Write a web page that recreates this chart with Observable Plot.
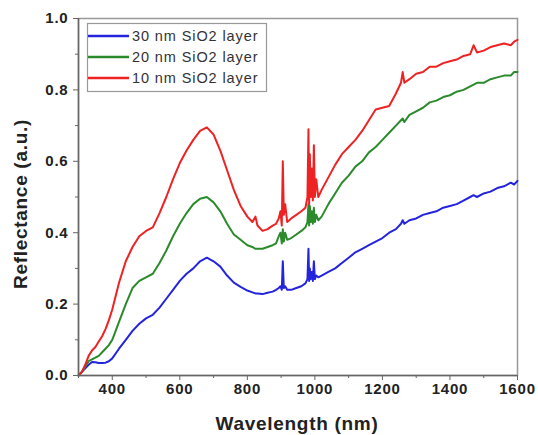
<!DOCTYPE html>
<html>
<head>
<meta charset="utf-8">
<script src="https://cdn.jsdelivr.net/npm/d3@7"></script>
<script src="https://cdn.jsdelivr.net/npm/@observablehq/plot@0.6"></script>
<style>
  html, body { margin: 0; padding: 0; background: #fff; }
  #chart { width: 538px; height: 435px; }
  #chart svg { font-family: "Liberation Sans", Arial, sans-serif; }
  g[aria-label="x-axis tick label"], g[aria-label="y-axis tick label"] { letter-spacing: 0.8px; }
  g.titles text { letter-spacing: 0.7px; }
</style>
</head>
<body>
<div id="chart"></div>
<script>
const wavelength = [300,310,320,330,340,350,360,370,380,390,400,420,440,460,480,500,520,540,560,580,600,620,640,660,680,700,720,740,760,780,800,815,824,830,845,860,875,885,893,898,902,905,908,912,918,930,945,960,972,978,981,983,985,988,991,994,997,1000,1004,1010,1020,1040,1060,1080,1100,1120,1140,1160,1180,1200,1220,1240,1255,1260,1265,1280,1300,1320,1340,1360,1380,1400,1420,1440,1460,1470,1480,1500,1520,1540,1560,1580,1590,1600];

const red10 = [0.0,0.01,0.03,0.055,0.07,0.08,0.095,0.11,0.13,0.155,0.185,0.26,0.32,0.36,0.39,0.405,0.415,0.455,0.50,0.55,0.595,0.63,0.66,0.685,0.695,0.675,0.63,0.575,0.52,0.475,0.445,0.43,0.445,0.42,0.405,0.41,0.42,0.425,0.44,0.46,0.42,0.60,0.45,0.48,0.43,0.44,0.45,0.46,0.47,0.50,0.69,0.48,0.62,0.50,0.58,0.49,0.645,0.50,0.55,0.50,0.52,0.555,0.59,0.62,0.64,0.66,0.685,0.715,0.745,0.75,0.755,0.79,0.82,0.85,0.82,0.83,0.845,0.85,0.865,0.865,0.875,0.88,0.885,0.895,0.90,0.925,0.905,0.91,0.92,0.925,0.93,0.925,0.935,0.94];

const green20 = [0.0,0.01,0.025,0.04,0.045,0.05,0.055,0.065,0.075,0.085,0.10,0.15,0.20,0.245,0.265,0.275,0.285,0.315,0.35,0.39,0.425,0.455,0.48,0.495,0.50,0.485,0.46,0.425,0.395,0.38,0.365,0.36,0.355,0.355,0.355,0.36,0.365,0.37,0.39,0.40,0.37,0.41,0.375,0.40,0.38,0.385,0.395,0.405,0.415,0.43,0.48,0.42,0.475,0.43,0.46,0.425,0.47,0.43,0.45,0.435,0.445,0.48,0.51,0.54,0.56,0.585,0.60,0.625,0.64,0.66,0.68,0.70,0.715,0.72,0.71,0.73,0.74,0.75,0.765,0.77,0.78,0.785,0.795,0.80,0.81,0.815,0.82,0.82,0.83,0.835,0.84,0.84,0.85,0.85];

const blue30 = [0.0,0.01,0.02,0.03,0.038,0.037,0.035,0.035,0.036,0.04,0.048,0.075,0.10,0.125,0.145,0.16,0.17,0.19,0.215,0.24,0.265,0.285,0.30,0.32,0.33,0.32,0.305,0.28,0.26,0.248,0.238,0.233,0.23,0.23,0.228,0.232,0.235,0.24,0.245,0.25,0.24,0.32,0.245,0.25,0.24,0.24,0.245,0.25,0.258,0.27,0.355,0.265,0.30,0.27,0.29,0.265,0.32,0.27,0.28,0.275,0.28,0.29,0.30,0.315,0.33,0.345,0.355,0.365,0.375,0.385,0.40,0.41,0.425,0.435,0.425,0.435,0.44,0.45,0.455,0.46,0.47,0.475,0.48,0.49,0.50,0.505,0.50,0.51,0.515,0.525,0.53,0.54,0.535,0.545];

const seriesNames = ["30 nm SiO2 layer", "20 nm SiO2 layer", "10 nm SiO2 layer"];
const seriesColors = ["#2424dc", "#2b8a2b", "#ee2222"];
const seriesValues = [blue30, green20, red10];

const xMajor = [400, 600, 800, 1000, 1200, 1400, 1600];
const xMinor = [300, 500, 700, 900, 1100, 1300, 1500];
const yMajor = [0, 0.2, 0.4, 0.6, 0.8, 1.0];
const yMinor = [0.1, 0.3, 0.5, 0.7, 0.9];

const xTitle = "Wavelength (nm)";
const yTitle = "Reflectance (a.u.)";

const rows = [];
seriesValues.forEach((vals, s) => {
  vals.forEach((v, i) => rows.push({series: seriesNames[s], x: wavelength[i], y: v}));
});

const axisColor = "#666";
const labelFont = {fontSize: 15, fontWeight: "bold", fill: "#222"};

const chart = Plot.plot({
  width: 538,
  height: 435,
  marginLeft: 78,
  marginRight: 21,
  marginTop: 18,
  marginBottom: 60,
  x: {domain: [300, 1600]},
  y: {domain: [0, 1]},
  color: {domain: seriesNames, range: seriesColors},
  marks: [
    Plot.frame({stroke: "#999", strokeWidth: 1.5}),
    Plot.lineY(rows, {x: "x", y: "y", z: "series", stroke: "series", strokeWidth: 2, curve: "linear"}),
    Plot.ruleY([0], {stroke: axisColor, strokeWidth: 1.5}),
    Plot.ruleX([300], {stroke: axisColor, strokeWidth: 1.5}),
    Plot.axisX(xMajor, {tickSize: 5, tickPadding: 3, stroke: axisColor, tickFormat: d3.format("d"), ...labelFont, label: null}),
    Plot.axisX(xMinor, {tickSize: 3, stroke: axisColor, tickFormat: () => "", label: null}),
    Plot.axisY(yMajor, {tickSize: 5, tickPadding: 5, stroke: axisColor, tickFormat: d3.format(".1f"), ...labelFont, label: null}),
    Plot.axisY(yMinor, {tickSize: 3, stroke: axisColor, tickFormat: () => "", label: null})
  ]
});

document.getElementById("chart").appendChild(chart);

// axis titles and legend
const svg = d3.select(chart);
const titles = svg.append("g").attr("class", "titles")
  .attr("font-family", "'Liberation Sans', Arial, sans-serif")
  .attr("font-weight", "bold").attr("fill", "#222").attr("font-size", 19);
titles.append("text").attr("x", 297).attr("y", 430).attr("text-anchor", "middle").text(xTitle);
titles.append("text").attr("transform", "translate(27,204) rotate(-90)").attr("text-anchor", "middle").text(yTitle);

const lg = svg.append("g").attr("font-family", "'Liberation Sans', Arial, sans-serif").attr("text-anchor", "start");
lg.append("rect").attr("x", 87.5).attr("y", 23.5).attr("width", 179).attr("height", 68)
  .attr("fill", "white").attr("stroke", "#999").attr("stroke-width", 1.2);
seriesNames.forEach((name, i) => {
  const yy = 36 + i * 21;
  lg.append("line").attr("x1", 88).attr("x2", 129).attr("y1", yy).attr("y2", yy)
    .attr("stroke", seriesColors[i]).attr("stroke-width", 2.5);
  lg.append("text").attr("x", 132).attr("y", yy + 5).attr("font-size", 14.5)
    .attr("text-anchor", "start")
    .attr("letter-spacing", "0.9px").attr("fill", "#333").text(name);
});
</script>
</body>
</html>
